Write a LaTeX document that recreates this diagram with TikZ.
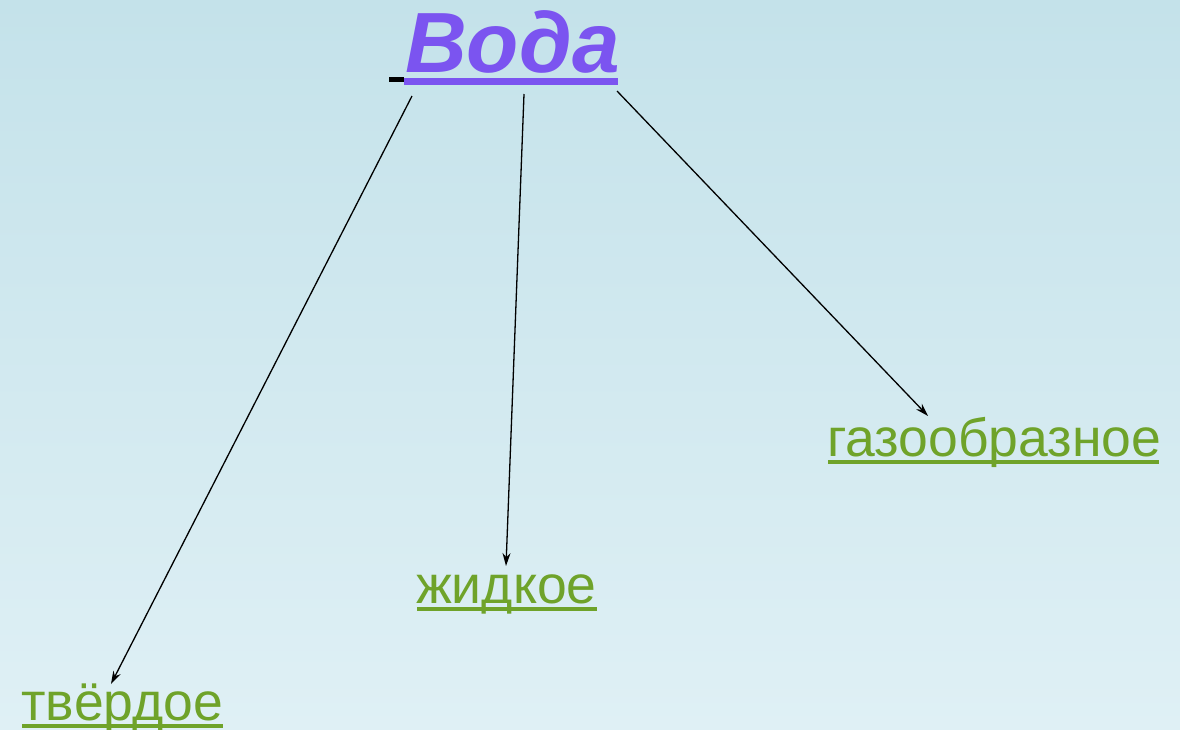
\documentclass[tikz,border=0pt]{standalone}
\usepackage{fontspec}
\setmainfont{Liberation Sans}
\usetikzlibrary{arrows.meta}
\definecolor{bgtop}{RGB}{196,226,234}
\definecolor{bgbot}{RGB}{223,240,245}
\definecolor{titlepurple}{RGB}{123,84,240}
\definecolor{stategreen}{RGB}{111,163,42}
\tikzset{
  title/.style={anchor=base west, inner sep=0pt, text=titlepurple,
    font=\fontsize{85.5}{94}\selectfont\bfseries\itshape},
  statelabel/.style={anchor=base west, inner sep=0pt, text=stategreen,
    font=\fontsize{53.5}{62}\selectfont},
  link/.style={draw=black, line width=1.3pt, -{Stealth[length=13pt,width=8pt]}},
  greenline/.style={draw=stategreen, line width=4.5pt},
}
\begin{document}
\begin{tikzpicture}[x=1pt,y=-1pt]
  \shade[top color=bgtop, bottom color=bgbot] (0,0) rectangle (1180,729);
  \useasboundingbox (0,0) rectangle (1180,729);

  % title and its underline
  \node[title] (voda) at (405,72) {Вода};
  \draw[black, line width=5pt] (389,79.5) -- (404,79.5);
  \draw[titlepurple, line width=6.5pt] (404,81.5) -- (618,81.5);

  % states of water
  \node[statelabel] (solid) at (21,720) {твёрдое};
  \node[statelabel] (liquid) at (416,603) {жидкое};
  \node[statelabel] (gas) at (827,456) {газообразное};

  \draw[greenline] (22,726) -- (223,726);
  \draw[greenline] (417,609) -- (597,609);
  \draw[greenline] (828,462) -- (1159,462);

  % arrow end points
  \coordinate (s1) at (412,96);
  \coordinate (s2) at (524,94);
  \coordinate (s3) at (617,91);
  \coordinate (e1) at (111,684);
  \coordinate (e2) at (506,566);
  \coordinate (e3) at (928,416);

  \draw[link] (s1) -- (e1);
  \draw[link] (s2) -- (e2);
  \draw[link] (s3) -- (e3);
\end{tikzpicture}
\end{document}
